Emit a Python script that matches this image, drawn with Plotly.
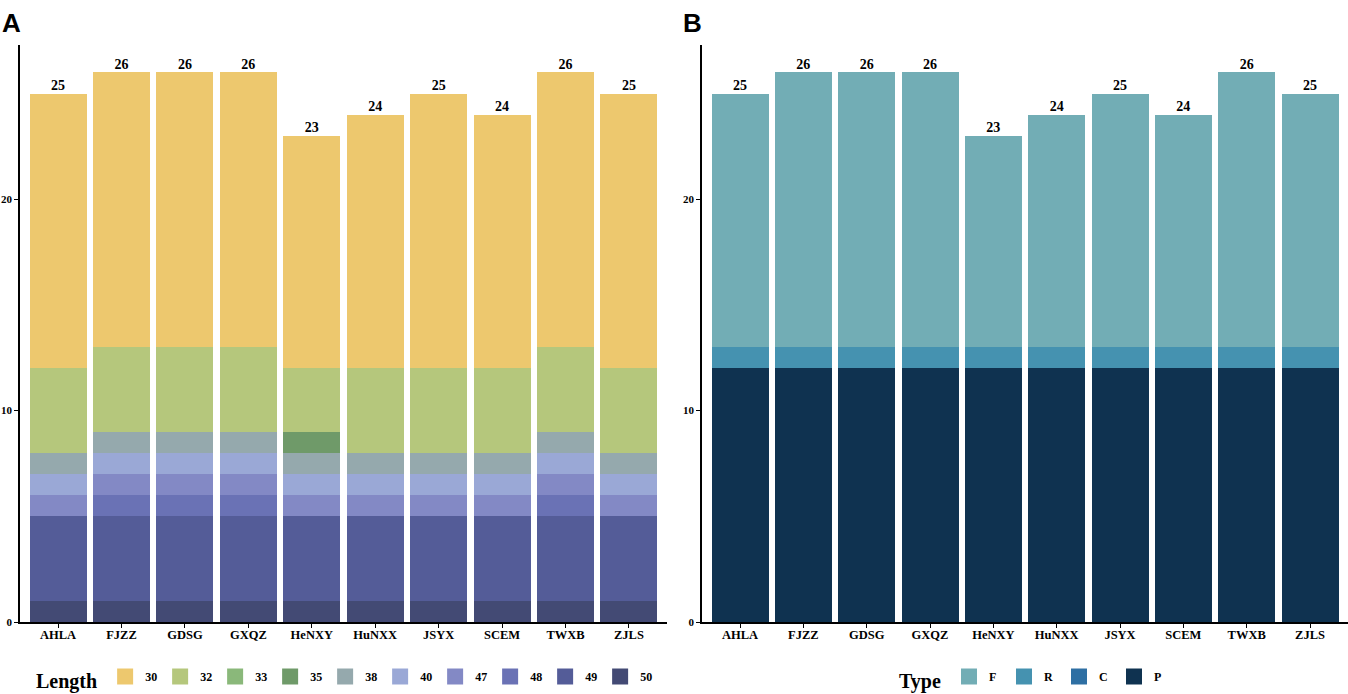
import plotly.graph_objects as go

sites = ["AHLA", "FJZZ", "GDSG", "GXQZ", "HeNXY", "HuNXX", "JSYX", "SCEM", "TWXB", "ZJLS"]

# panel A: number of repeats of each length per site
length_levels = ["30", "32", "33", "35", "38", "40", "47", "48", "49", "50"]
len_30 = [13, 13, 13, 13, 11, 12, 13, 12, 13, 13]
len_32 = [4, 4, 4, 4, 3, 4, 4, 4, 4, 4]
len_33 = [0, 0, 0, 0, 0, 0, 0, 0, 0, 0]
len_35 = [0, 0, 0, 0, 1, 0, 0, 0, 0, 0]
len_38 = [1, 1, 1, 1, 1, 1, 1, 1, 1, 1]
len_40 = [1, 1, 1, 1, 1, 1, 1, 1, 1, 1]
len_47 = [1, 1, 1, 1, 1, 1, 1, 1, 1, 1]
len_48 = [0, 1, 1, 1, 0, 0, 0, 0, 1, 0]
len_49 = [4, 4, 4, 4, 4, 4, 4, 4, 4, 4]
len_50 = [1, 1, 1, 1, 1, 1, 1, 1, 1, 1]
length_colors = ["#EDC86E", "#B5C77C", "#8AB87A", "#6F9A69", "#95A9AD",
                 "#9AA8D6", "#8389C5", "#6A72B5", "#545C98", "#434A74"]

# panel B: repeat type per site
type_levels = ["F", "R", "C", "P"]
type_F = [12, 13, 13, 13, 10, 11, 12, 11, 13, 12]
type_R = [1, 1, 1, 1, 1, 1, 1, 1, 1, 1]
type_C = [0, 0, 0, 0, 0, 0, 0, 0, 0, 0]
type_P = [12, 12, 12, 12, 12, 12, 12, 12, 12, 12]
type_colors = ["#72ADB5", "#4592B0", "#2E6FA3", "#0F3250"]

length_series = [len_30, len_32, len_33, len_35, len_38, len_40, len_47, len_48, len_49, len_50]
type_series = [type_F, type_R, type_C, type_P]

SERIF = "Liberation Serif"
W, H = 1348, 694

fig = go.Figure()


def add_panel(levels, series, colors, xa, ya, legend):
    # ggplot stacks the first level on top, so draw from the last level up
    for lvl, vals, col in reversed(list(zip(levels, series, colors))):
        fig.add_trace(go.Bar(x=sites, y=vals, marker=dict(color=col, line=dict(width=0)),
                             xaxis=xa, yaxis=ya, showlegend=False, name=lvl))
    totals = [sum(v) for v in zip(*series)]
    fig.add_trace(go.Scatter(x=sites, y=totals, mode="text", text=[str(t) for t in totals],
                             textposition="top center",
                             textfont=dict(family=SERIF, size=14, color="black", weight="bold"),
                             xaxis=xa, yaxis=ya, showlegend=False, hoverinfo="skip"))
    # legend keys
    for lvl, col in zip(levels, colors):
        fig.add_trace(go.Scatter(x=[None], y=[None], mode="markers", name=lvl,
                                 marker=dict(symbol="square", size=16, color=col),
                                 xaxis=xa, yaxis=ya, legend=legend))


add_panel(length_levels, length_series, length_colors, "x", "y", "legend")
add_panel(type_levels, type_series, type_colors, "x2", "y2", "legend2")

ydom = [72 / H, (H - 45) / H]
axis_common = dict(showline=True, linecolor="black", linewidth=1.5, ticks="outside",
                   ticklen=4, tickwidth=1, tickcolor="black", showgrid=False, zeroline=False,
                   automargin=False, tickfont=dict(family=SERIF, size=12.5, color="black", weight="bold"))
x_common = dict(axis_common, type="category", range=[-0.6, 9.6], ticklabelstandoff=-4)
y_common = dict(axis_common, range=[0, 27.3], tickvals=[0, 10, 20],
                tickfont=dict(family=SERIF, size=11, color="black", weight="bold"))

legend_common = dict(orientation="h", yanchor="middle", y=14 / H, xanchor="center",
                     font=dict(family=SERIF, size=12, color="black", weight="bold"),
                     itemwidth=30, itemsizing="trace", entrywidth=10,
                     bgcolor="rgba(0,0,0,0)", traceorder="normal")

fig.update_layout(
    width=W, height=H,
    margin=dict(l=0, r=0, t=0, b=0, autoexpand=False),
    paper_bgcolor="white", plot_bgcolor="white",
    barmode="stack", bargap=0.1,
    xaxis=dict(x_common, domain=[20 / W, 667 / W], anchor="y"),
    yaxis=dict(y_common, domain=ydom, anchor="x"),
    xaxis2=dict(x_common, domain=[702 / W, 1.0], anchor="y2"),
    yaxis2=dict(y_common, domain=ydom, anchor="x2"),
    legend=dict(legend_common, x=345 / W,
                title=dict(text="Length", side="left",
                           font=dict(family=SERIF, size=20, color="black", weight="bold"))),
    legend2=dict(legend_common, x=1033 / W,
                 title=dict(text="Type", side="left",
                            font=dict(family=SERIF, size=20, color="black", weight="bold"))),
    annotations=[
        dict(text="A", x=0, y=1 - 6 / H, xref="paper", yref="paper", xanchor="left", yanchor="top",
             showarrow=False, font=dict(family="Liberation Sans", size=26, color="black", weight="bold")),
        dict(text="B", x=681 / W, y=1 - 6 / H, xref="paper", yref="paper", xanchor="left", yanchor="top",
             showarrow=False, font=dict(family="Liberation Sans", size=26, color="black", weight="bold")),
    ],
)

# drop the browser's default body margin so the figure sits at the window corner
fig.write_html("out.html", config={"displayModeBar": False},
               post_script="document.body.style.margin='0';")
